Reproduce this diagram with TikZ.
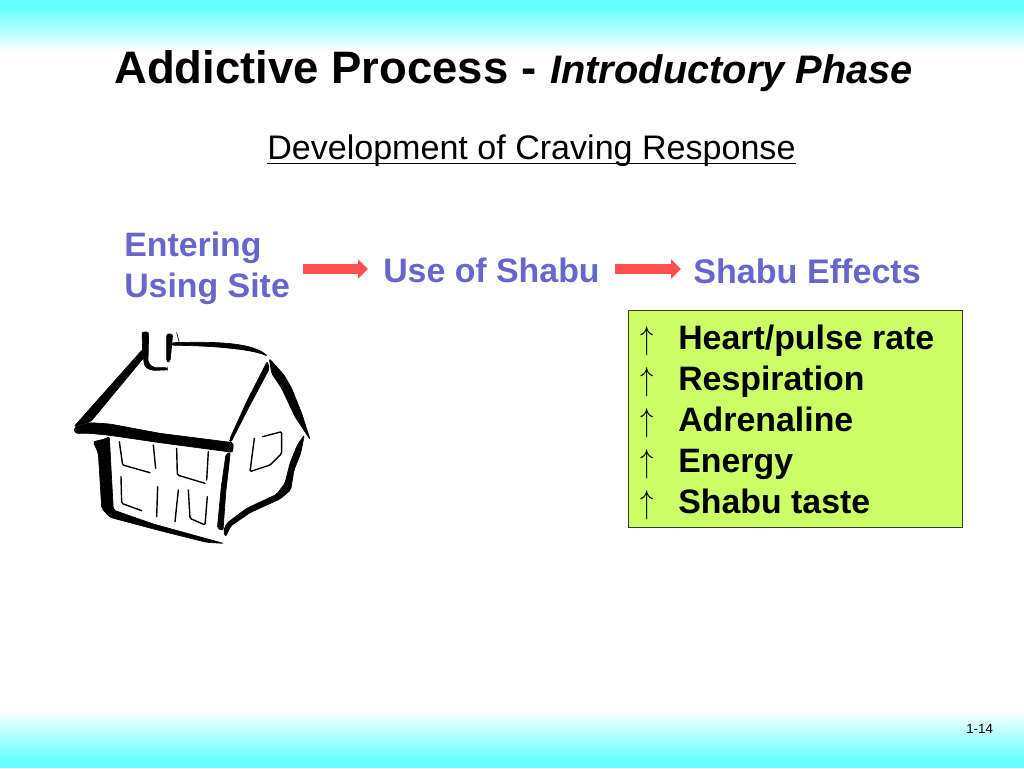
\documentclass[tikz,border=0pt]{standalone}
\usepackage{graphicx}
\usepackage{fontspec}
\setmainfont{Liberation Sans}
\usetikzlibrary{arrows.meta}
\definecolor{cyanband}{HTML}{66FFFF}
\definecolor{bluetext}{HTML}{6666CC}
\definecolor{redarrow}{HTML}{FF5050}
\definecolor{limebox}{HTML}{CCFF66}
\newcommand{\myul}[1]{\setbox0\hbox{#1}\rlap{\rule[-3.6pt]{\wd0}{0.9pt}}#1}
\tikzset{
  txt/.style={inner sep=0pt,anchor=base west,text=black},
  bluelabel/.style={txt,text=bluetext,font=\fontsize{25.4pt}{30.7pt}\selectfont\bfseries},
  itemlabel/.style={txt,font=\fontsize{25.4pt}{30.7pt}\selectfont\bfseries},
  uparrow/.style={txt,font=\fontsize{25.6pt}{30.7pt}\selectfont},
  flow/.style={draw=redarrow,line width=7.5pt,-{Triangle[length=7.5pt,width=14.5pt]}},
  ink/.style={fill=black,draw=black,line width=0.5pt,rounded corners=1.5pt},
  winline/.style={draw=black,line width=1.05pt,rounded corners=1pt,line cap=round,fill=none},
}
\begin{document}
\begin{tikzpicture}[x=0.75pt,y=-0.75pt]
\useasboundingbox (0,0) rectangle (1024,768);
\fill[white] (0,0) rectangle (1024,768);
% gradient bands
\fill[cyanband] (0,0) rectangle (1024,8);
\shade[top color=cyanband,bottom color=white] (0,8) rectangle (1024,52);
\shade[top color=white,bottom color=cyanband] (0,710) rectangle (1024,760);
\fill[cyanband] (0,760) rectangle (1024,768);
% title
\node[txt,font=\fontsize{34.1pt}{40pt}\selectfont\bfseries] (title) at (114,83) {Addictive Process -};
\node[txt,font=\fontsize{29.85pt}{36pt}\selectfont\bfseries\itshape] (subtitle) at (550,83) {Introductory Phase};
\node[txt,font=\fontsize{25.55pt}{30.7pt}\selectfont] (dev) at (267,159) {\myul{Development of Craving Response}};
% flow labels
\coordinate (rowa) at (0,269);
\node[bluelabel] (entrya) at (124,256) {Entering};
\node[bluelabel] (entryb) at (124,297) {Using Site};
\node[bluelabel] (use) at (383,282) {Use of Shabu};
\node[bluelabel,font=\fontsize{25.6pt}{30.7pt}\selectfont\bfseries] (effects) at (693,283) {Shabu Effects};
\draw[flow,shorten <=9.75pt,shorten >=11.25pt] (entryb.east |- rowa) -- (use.west |- rowa);
\draw[flow,shorten <=11.25pt,shorten >=9pt] (use.east |- rowa) -- (effects.west |- rowa);
% effects box
\node[draw=black!75!limebox,line width=0.7pt,fill=limebox,minimum width=250.5pt,minimum height=162.75pt,inner sep=0pt,anchor=north west] (box) at (628,310) {};
\foreach \n/\t/\yy in {a/Heart\slash pulse rate/349,b/Respiration/390,c/Adrenaline/431,d/Energy/472,e/Shabu taste/513}{
  \node[uparrow] (arr\n) at (640,\yy) {\scalebox{0.8}[1]{$\uparrow$}};
  \node[itemlabel] (item\n) at (678,\yy) {\t};
}
% page number
\node[txt,font=\fontsize{10pt}{12pt}\selectfont] (page) at (966,733) {1-14};
% house, in 3x crop coordinates
\begin{scope}[shift={(45pt,-240pt)},x=0.25pt,y=-0.25pt]
\path[ink] (246,36) -- (266,36) -- (264,128) -- (280,143) -- (322,143) -- (322,150) -- (275,151) -- (254,140) -- (248,95) -- cycle;
\path[ink] (320,42) -- (338,42) -- (335,75) -- (330,125) -- (320,125) -- cycle;
\draw[winline,line width=0.5pt] (350,38) -- (358,68);
\path[ink] (336,68) .. controls (430,66) and (570,62) .. (622,108) .. controls (570,85) and (430,76) .. (336,76) -- cycle;
\path[ink] (248,88) -- (252,112) -- (92,305) -- (42,320) -- cycle;
\path[ink] (42,322) -- (90,308) -- (150,312) -- (300,340) -- (520,368) -- (518,397) -- (300,368) -- (150,346) -- (90,340) -- (45,340) -- cycle;
\path[ink] (628,116) -- (672,165) -- (695,205) -- (725,280) -- (750,358) -- (705,290) -- (665,205) -- (635,160) -- cycle;
\path[ink] (622,124) -- (628,146) -- (570,255) -- (513,366) -- (508,360) -- (560,245) -- cycle;
\path[ink] (733,345) -- (722,400) -- (702,450) -- (692,510) -- (660,537) -- (570,578) -- (512,618) -- (497,650) -- (490,635) -- (500,610) -- (560,565) -- (650,523) -- (675,490) -- (690,430) -- (712,375) -- cycle;
\path[ink] (498,402) -- (511,396) -- (497,520) -- (489,632) -- (472,625) -- (484,500) -- cycle;
\path[ink] (100,365) -- (135,357) -- (148,350) -- (155,480) -- (160,570) -- (280,612) -- (490,670) -- (440,667) -- (300,632) -- (150,592) -- (125,565) -- (120,480) -- (115,400) -- cycle;
\draw[winline] (178,365) -- (188,435) -- (270,458);
\draw[winline] (280,375) -- (287,445);
\draw[winline] (350,385) -- (352,465) -- (435,490);
\draw[winline] (445,395) -- (440,480);
\draw[winline] (183,470) -- (185,550) -- (245,572);
\draw[winline] (293,500) -- (290,590);
\draw[winline] (355,510) -- (345,605);
\draw[winline] (385,510) -- (390,595) -- (435,615) -- (442,530);
\draw[winline] (608,350) -- (665,335) -- (665,400) -- (630,435) -- (570,455) -- (583,355);
\end{scope}
\end{tikzpicture}
\end{document}
